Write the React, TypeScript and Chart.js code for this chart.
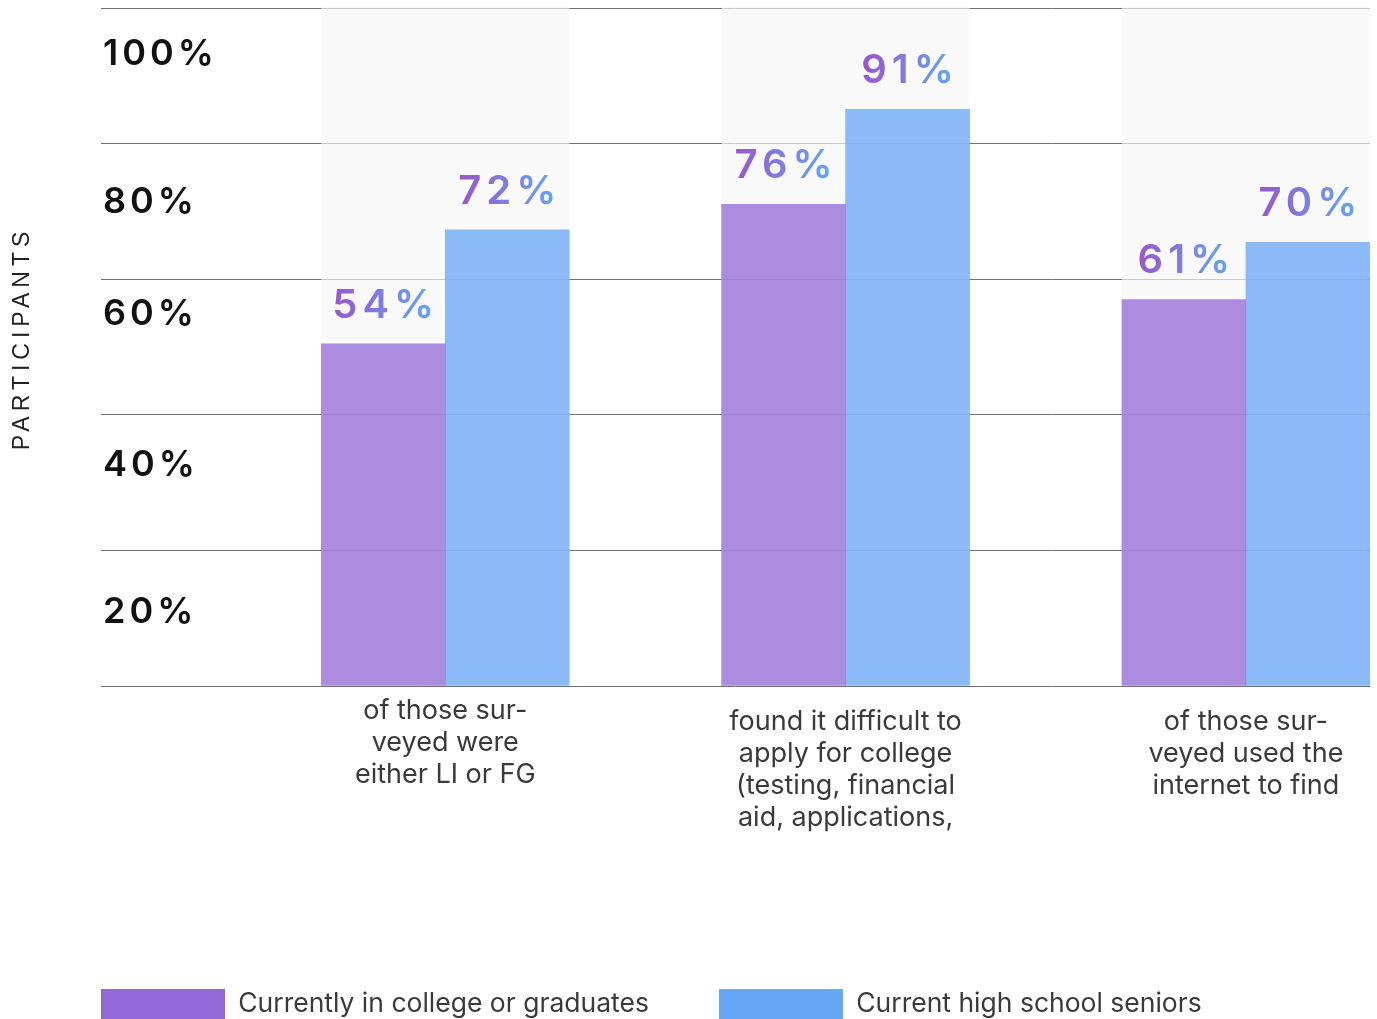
import React, { useEffect, useRef } from "react";
import { Chart, registerables } from "chart.js";

Chart.register(...registerables);

// ---------------- data ----------------
const CATEGORY_LABELS: string[][] = [
  ["of those sur-", "veyed were", "either LI or FG"],
  ["found it difficult to", "apply for college", "(testing, financial", "aid, applications,"],
  ["of those sur-", "veyed used the", "internet to find"],
];
const SERIES_NAMES: string[] = ["Currently in college or graduates", "Current high school seniors"];
const COLLEGE_OR_GRADUATES: number[] = [54, 76, 61];
const HIGH_SCHOOL_SENIORS: number[] = [72, 91, 70];
const Y_TICK_LABELS: string[] = ["", "20%", "40%", "60%", "80%", "100%"];
const Y_AXIS_TITLE = "PARTICIPANTS";

// ---------------- layout / style ----------------
const CANVAS_W = 1377;
const CANVAS_H = 1029;
const VIEW_H = 1019;
const PLOT_LEFT = 101;
const PLOT_RIGHT = 1370;
const PLOT_TOP = 8;
const PLOT_BOTTOM = 686;
const LEGEND_BOX_TOP = 989;
const LEGEND_SECOND_X = 719;
const Y_MAX = 107;
const X_MIN = -0.86;
const X_MAX = 2.31;
const BAR_W = 124;
// vertical offset of each y tick label below its grid line (by tick index, bottom to top)
const TICK_LABEL_OFFSETS: number[] = [0, 62, 50, 35, 59, 46];
// vertical nudge of each category label
const X_LABEL_OFFSETS: number[] = [-11, 0, 0];

const FONT = "Inter, 'Noto Sans', sans-serif";
const TITLE_FONT = "'Liberation Sans', Arial, sans-serif";
const PURPLE = "#9368d6";
const BLUE = "#65a6f7";
const PURPLE_BAR = "rgba(147,104,214,0.75)";
const BLUE_BAR = "rgba(101,166,247,0.75)";
const GRAD_START = "#9b55cc";
const GRAD_END = "#62a7f7";
const GRID_COLOR = "#707070";
const PANEL_COLOR = "rgba(246,246,246,0.67)";
const TEXT_COLOR = "#3a3a3a";

const VALUE_FONT = 40;
const VALUE_LS = 5;
const VALUE_GAP = 26;
const TICK_FONT = 36;
const TICK_LS = 4;
const LEGEND_FONT = 26.5;
const X_FONT = 27;
const X_LINE = 32;
const TITLE_SIZE = 23;
const TITLE_LS = 5;
const TITLE_X = 23;

export default function App() {
  const ref = useRef<HTMLCanvasElement | null>(null);

  useEffect(() => {
    const canvas = ref.current;
    if (!canvas) return;

    // legend spacing so the second item starts where the middle group starts
    const meas = document.createElement("canvas").getContext("2d") as CanvasRenderingContext2D;
    meas.font = `normal ${LEGEND_FONT}px ${FONT}`;
    const firstTextW = meas.measureText(SERIES_NAMES[0]).width;
    let legendPad = LEGEND_SECOND_X - PLOT_LEFT - (BAR_W + LEGEND_FONT / 2) - firstTextW;
    legendPad = Math.max(8, Math.min(PLOT_LEFT - 1, legendPad));
    const padLeft = PLOT_LEFT - legendPad;
    const xAxisHeight = LEGEND_BOX_TOP - legendPad - PLOT_BOTTOM;

    const shiftLabels = (scale: any, offsets: number[]) => {
      const items = scale.getLabelItems();
      if (items && !items.__shifted && items.length === scale.ticks.length) {
        items.forEach((it: any, i: number) => {
          it.options.translation[1] += offsets[i] ?? 0;
        });
        items.__shifted = true;
      }
    };

    const panelPlugin = {
      id: "panels",
      beforeDraw(chart: any) {
        shiftLabels(chart.scales.y, TICK_LABEL_OFFSETS);
        shiftLabels(chart.scales.x, X_LABEL_OFFSETS);
      },
      beforeDatasetsDraw(chart: any) {
        const { ctx, chartArea, scales } = chart;
        ctx.save();
        ctx.fillStyle = PANEL_COLOR;
        CATEGORY_LABELS.forEach((_, i) => {
          const c = scales.x.getPixelForValue(i);
          ctx.fillRect(c - BAR_W, chartArea.top - 1, BAR_W * 2, chartArea.bottom - chartArea.top + 1);
        });
        ctx.restore();
      },
    };

    const textPlugin = {
      id: "texts",
      afterDatasetsDraw(chart: any) {
        const ctx = chart.ctx as any;
        ctx.save();
        ctx.font = `600 ${VALUE_FONT}px ${FONT}`;
        ctx.letterSpacing = `${VALUE_LS}px`;
        ctx.textAlign = "left";
        ctx.textBaseline = "alphabetic";
        chart.data.datasets.forEach((ds: any, di: number) => {
          const meta = chart.getDatasetMeta(di);
          meta.data.forEach((bar: any, i: number) => {
            const text = `${ds.data[i].y}%`;
            const w = ctx.measureText(text).width - VALUE_LS;
            const x0 = bar.x - w / 2;
            const g = ctx.createLinearGradient(x0, 0, x0 + w, 0);
            g.addColorStop(0, GRAD_START);
            g.addColorStop(1, GRAD_END);
            ctx.fillStyle = g;
            ctx.fillText(text, x0, bar.y - VALUE_GAP);
          });
        });
        ctx.restore();
        // y tick labels (z: 1) are drawn right after this, letter-spaced
        ctx.letterSpacing = `${TICK_LS}px`;
      },
      afterDraw(chart: any) {
        const ctx = chart.ctx as any;
        ctx.letterSpacing = "0px";
        const { chartArea } = chart;
        ctx.save();
        ctx.font = `normal ${TITLE_SIZE}px ${TITLE_FONT}`;
        ctx.letterSpacing = `${TITLE_LS}px`;
        ctx.fillStyle = "#222";
        ctx.textAlign = "left";
        ctx.textBaseline = "middle";
        const w = ctx.measureText(Y_AXIS_TITLE).width - TITLE_LS;
        ctx.translate(TITLE_X, (chartArea.top + chartArea.bottom) / 2 - 6);
        ctx.rotate(-Math.PI / 2);
        ctx.fillText(Y_AXIS_TITLE, -w / 2, 0);
        ctx.restore();
        ctx.letterSpacing = "0px";
      },
    };

    const chart = new Chart(canvas, {
      type: "bar",
      data: {
        datasets: [
          {
            label: SERIES_NAMES[0],
            data: COLLEGE_OR_GRADUATES.map((v, i) => ({ x: i, y: v })),
            backgroundColor: PURPLE_BAR,
            borderWidth: 0,
            barThickness: BAR_W,
          },
          {
            label: SERIES_NAMES[1],
            data: HIGH_SCHOOL_SENIORS.map((v, i) => ({ x: i, y: v })),
            backgroundColor: BLUE_BAR,
            borderWidth: 0,
            barThickness: BAR_W,
          },
        ],
      } as any,
      options: {
        responsive: false,
        animation: false,
        events: [],
        layout: {
          autoPadding: false,
          padding: { left: padLeft, right: CANVAS_W - PLOT_RIGHT, top: PLOT_TOP, bottom: 0 },
        },
        font: { family: FONT },
        scales: {
          x: {
            type: "linear",
            min: X_MIN,
            max: X_MAX,
            offset: false,
            grid: { display: false, drawTicks: false },
            border: { display: false },
            afterBuildTicks: (axis: any) => {
              axis.ticks = CATEGORY_LABELS.map((_, i) => ({ value: i }));
            },
            afterFit: (axis: any) => {
              axis.height = xAxisHeight;
            },
            ticks: {
              autoSkip: false,
              maxRotation: 0,
              minRotation: 0,
              padding: 20,
              color: TEXT_COLOR,
              font: { family: FONT, size: X_FONT, lineHeight: X_LINE / X_FONT },
              callback: (_v: any, index: number) => CATEGORY_LABELS[index],
            },
          },
          y: {
            type: "linear",
            min: 0,
            max: Y_MAX,
            grid: { color: GRID_COLOR, lineWidth: 1, drawTicks: false },
            border: { display: false },
            afterBuildTicks: (axis: any) => {
              axis.ticks = Y_TICK_LABELS.map((_, k) => ({ value: (Y_MAX * k) / (Y_TICK_LABELS.length - 1) }));
            },
            afterFit: (axis: any) => {
              axis.width = legendPad;
              axis.paddingTop = 0;
              axis.paddingBottom = 0;
            },
            ticks: {
              mirror: true,
              padding: 2,
              z: 1,
              labelOffset: 0,
              color: "#111",
              font: { family: FONT, size: TICK_FONT, weight: "600" },
              callback: (_v: any, index: number) => Y_TICK_LABELS[index],
            },
          },
        },
        plugins: {
          tooltip: { enabled: false },
          legend: {
            position: "bottom",
            align: "start",
            labels: {
              boxWidth: BAR_W,
              boxHeight: 30,
              padding: legendPad,
              color: TEXT_COLOR,
              font: { family: FONT, size: LEGEND_FONT },
              generateLabels: (c: any) => {
                const items = (Chart.defaults.plugins.legend.labels as any).generateLabels(c);
                const solid = [PURPLE, BLUE];
                return items.map((it: any, i: number) => ({ ...it, fillStyle: solid[i], strokeStyle: solid[i], lineWidth: 0 }));
              },
            },
          },
        },
      } as any,
      plugins: [panelPlugin, textPlugin],
    });

    return () => chart.destroy();
  }, []);

  return (
    <div style={{ position: "fixed", left: 0, top: 0, width: CANVAS_W, height: VIEW_H, overflow: "hidden", background: "#fff" }}>
      <canvas ref={ref} width={CANVAS_W} height={CANVAS_H} style={{ display: "block" }} />
    </div>
  );
}
